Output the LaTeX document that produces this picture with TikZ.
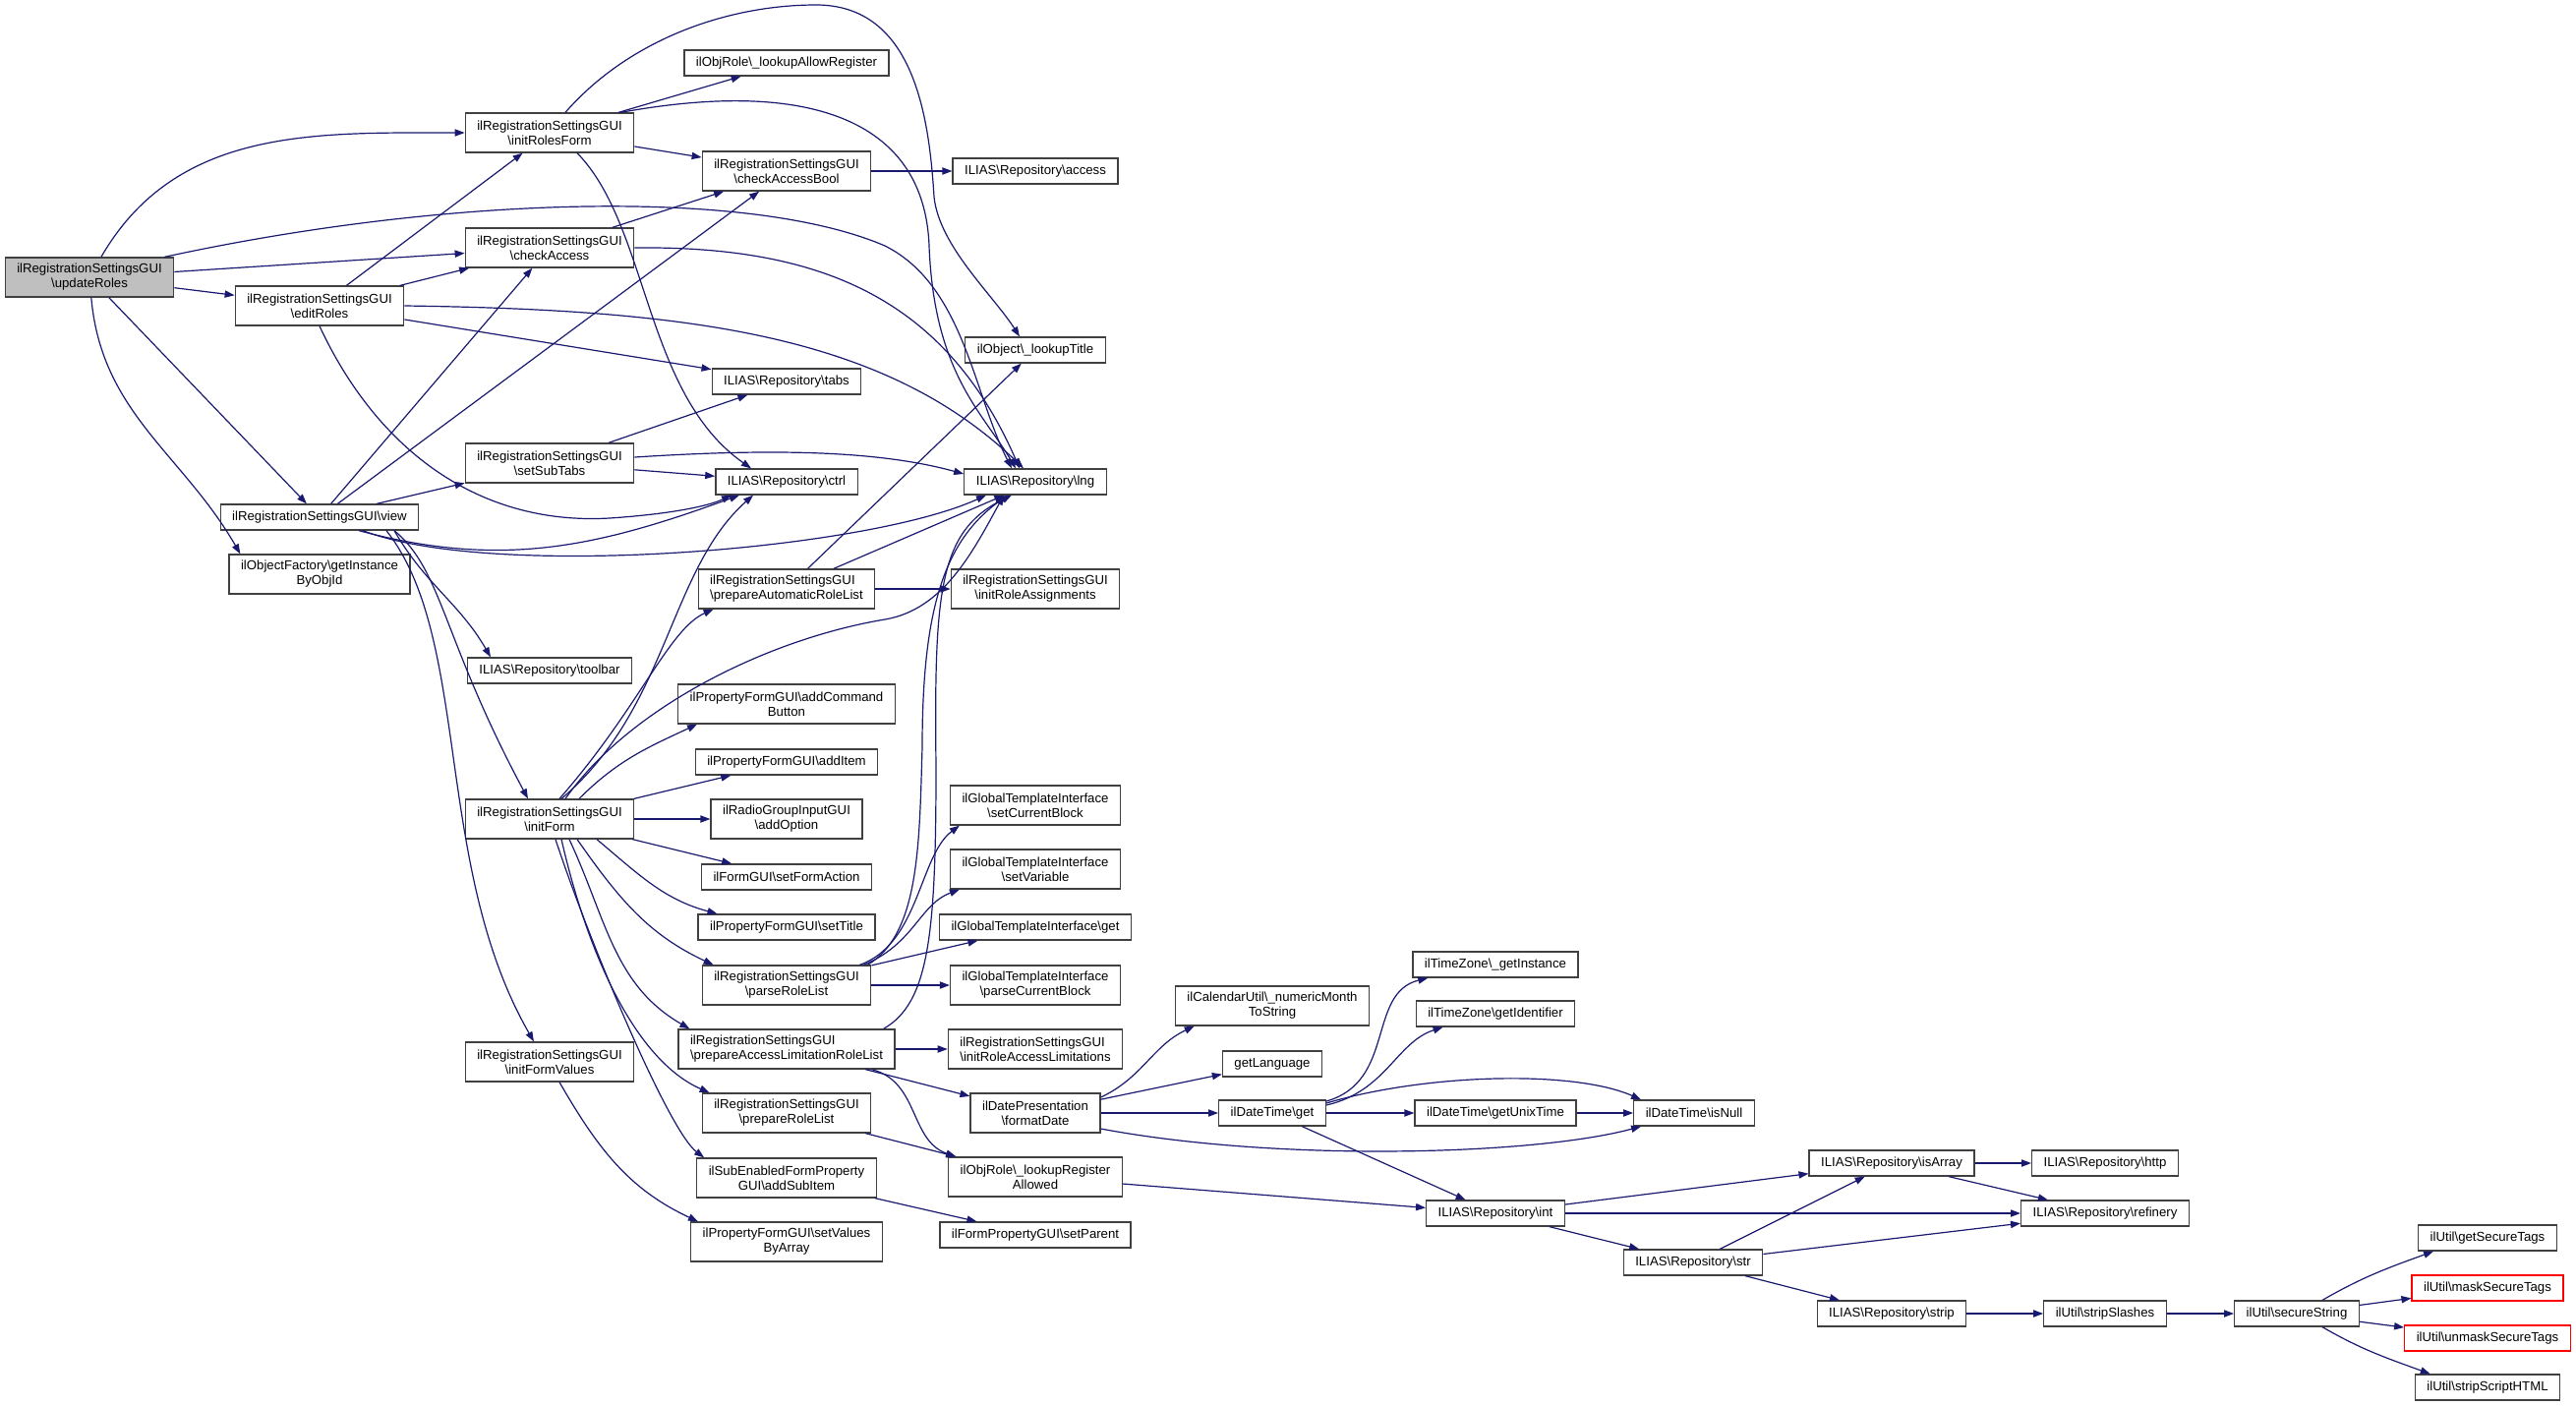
\documentclass[tikz,border=0pt]{standalone}
\usepackage{fontspec}
\setmainfont{Liberation Sans}
\usetikzlibrary{arrows.meta}

\definecolor{edgeblue}{RGB}{25,25,112}
\definecolor{boxgrey}{RGB}{64,64,64}
\definecolor{rootgrey}{RGB}{191,191,191}
\newcommand{\bsl}{\textbackslash}

\tikzstyle{func} = [draw=boxgrey, line width=0.65pt, fill=white, rectangle,
    inner xsep=6pt, inner ysep=0pt, minimum height=13pt, align=center,
    font=\fontsize{6.6pt}{7.5pt}\selectfont]
\tikzstyle{twoline} = [func, minimum height=20pt]
\tikzstyle{rootfunc} = [twoline, fill=rootgrey]
\tikzstyle{truncated} = [func, draw=red]
\tikzstyle{callarrow} = [draw=edgeblue, line width=0.6pt, -{Triangle[length=5pt,width=3.6pt]}]

\begin{document}
\begin{tikzpicture}[x=0.5pt, y=0.5pt]
    \useasboundingbox (0,0) rectangle (2620,-1430);
    \node [rootfunc] (updateRoles) at (91,-282) {ilRegistrationSettingsGUI\\\bsl updateRoles};
    \node [twoline] (editRoles) at (325,-311) {ilRegistrationSettingsGUI\\\bsl editRoles};
    \node [func] (view) at (325,-526) {ilRegistrationSettingsGUI\bsl view};
    \node [twoline] (getInstance) at (325,-584) {ilObjectFactory\bsl getInstance\\ByObjId};
    \node [twoline] (initRolesForm) at (559,-135) {ilRegistrationSettingsGUI\\\bsl initRolesForm};
    \node [twoline] (checkAccess) at (559,-252) {ilRegistrationSettingsGUI\\\bsl checkAccess};
    \node [twoline] (setSubTabs) at (559,-471) {ilRegistrationSettingsGUI\\\bsl setSubTabs};
    \node [func] (toolbar) at (559,-682) {ILIAS\bsl Repository\bsl toolbar};
    \node [twoline] (initForm) at (559,-833) {ilRegistrationSettingsGUI\\\bsl initForm};
    \node [twoline] (initFormValues) at (559,-1080) {ilRegistrationSettingsGUI\\\bsl initFormValues};
    \node [func] (lookupAllowRegister) at (800,-64) {ilObjRole\bsl\_lookupAllowRegister};
    \node [twoline] (checkAccessBool) at (800,-174) {ilRegistrationSettingsGUI\\\bsl checkAccessBool};
    \node [func] (tabs) at (800,-388) {ILIAS\bsl Repository\bsl tabs};
    \node [func] (ctrl) at (800,-490) {ILIAS\bsl Repository\bsl ctrl};
    \node [twoline, align=left] (prepareAutomaticRoleList) at (800,-599) {ilRegistrationSettingsGUI\\\bsl prepareAutomaticRoleList};
    \node [twoline] (addCommandButton) at (800,-716) {ilPropertyFormGUI\bsl addCommand\\Button};
    \node [func] (addItem) at (800,-775) {ilPropertyFormGUI\bsl addItem};
    \node [twoline] (addOption) at (800,-833) {ilRadioGroupInputGUI\\\bsl addOption};
    \node [func] (setFormAction) at (800,-892) {ilFormGUI\bsl setFormAction};
    \node [func] (setTitle) at (800,-943) {ilPropertyFormGUI\bsl setTitle};
    \node [twoline] (parseRoleList) at (800,-1002) {ilRegistrationSettingsGUI\\\bsl parseRoleList};
    \node [twoline, align=left] (prepareAccessLimitationRoleList) at (800,-1067) {ilRegistrationSettingsGUI\\\bsl prepareAccessLimitationRoleList};
    \node [twoline] (prepareRoleList) at (800,-1132) {ilRegistrationSettingsGUI\\\bsl prepareRoleList};
    \node [twoline] (addSubItem) at (800,-1198) {ilSubEnabledFormProperty\\GUI\bsl addSubItem};
    \node [twoline] (setValuesByArray) at (800,-1263) {ilPropertyFormGUI\bsl setValues\\ByArray};
    \node [func] (access) at (1053,-174) {ILIAS\bsl Repository\bsl access};
    \node [func] (lookupTitle) at (1053,-356) {ilObject\bsl\_lookupTitle};
    \node [func] (lng) at (1053,-490) {ILIAS\bsl Repository\bsl lng};
    \node [twoline] (initRoleAssignments) at (1053,-599) {ilRegistrationSettingsGUI\\\bsl initRoleAssignments};
    \node [twoline] (setCurrentBlock) at (1053,-819) {ilGlobalTemplateInterface\\\bsl setCurrentBlock};
    \node [twoline] (setVariable) at (1053,-884) {ilGlobalTemplateInterface\\\bsl setVariable};
    \node [func] (templateGet) at (1053,-943) {ilGlobalTemplateInterface\bsl get};
    \node [twoline] (parseCurrentBlock) at (1053,-1002) {ilGlobalTemplateInterface\\\bsl parseCurrentBlock};
    \node [twoline, align=left] (initRoleAccessLimitations) at (1053,-1067) {ilRegistrationSettingsGUI\\\bsl initRoleAccessLimitations};
    \node [twoline] (formatDate) at (1053,-1132) {ilDatePresentation\\\bsl formatDate};
    \node [twoline] (lookupRegisterAllowed) at (1053,-1197) {ilObjRole\bsl\_lookupRegister\\Allowed};
    \node [func] (setParent) at (1053,-1256) {ilFormPropertyGUI\bsl setParent};
    \node [twoline] (monthToString) at (1294,-1023) {ilCalendarUtil\bsl\_numericMonth\\ToString};
    \node [func] (getLanguage) at (1294,-1082) {getLanguage};
    \node [func] (dateGet) at (1294,-1132) {ilDateTime\bsl get};
    \node [func] (zoneInstance) at (1521,-981) {ilTimeZone\bsl\_getInstance};
    \node [func] (zoneIdentifier) at (1521,-1031) {ilTimeZone\bsl getIdentifier};
    \node [func] (unixTime) at (1521,-1132) {ilDateTime\bsl getUnixTime};
    \node [func] (repoInt) at (1521,-1234) {ILIAS\bsl Repository\bsl int};
    \node [func] (isNull) at (1723,-1132) {ilDateTime\bsl isNull};
    \node [func] (repoStr) at (1722,-1284) {ILIAS\bsl Repository\bsl str};
    \node [func] (isArray) at (1924,-1183) {ILIAS\bsl Repository\bsl isArray};
    \node [func] (repoStrip) at (1924,-1336) {ILIAS\bsl Repository\bsl strip};
    \node [func] (http) at (2141,-1183) {ILIAS\bsl Repository\bsl http};
    \node [func] (refinery) at (2141,-1234) {ILIAS\bsl Repository\bsl refinery};
    \node [func] (stripSlashes) at (2141,-1336) {ilUtil\bsl stripSlashes};
    \node [func] (secureString) at (2336,-1336) {ilUtil\bsl secureString};
    \node [func] (getSecureTags) at (2530,-1259) {ilUtil\bsl getSecureTags};
    \node [truncated] (maskSecureTags) at (2530,-1310) {ilUtil\bsl maskSecureTags};
    \node [truncated] (unmaskSecureTags) at (2530,-1361) {ilUtil\bsl unmaskSecureTags};
    \node [func] (stripScriptHTML) at (2530,-1411) {ilUtil\bsl stripScriptHTML};

    \draw [callarrow] (updateRoles) to[out=60,in=180] (initRolesForm);
    \draw [callarrow] (updateRoles) -- (checkAccess);
    \draw [callarrow] (updateRoles) -- (editRoles);
    \draw [callarrow] (updateRoles) -- (view);
    \draw [callarrow] (updateRoles) to[out=-85,in=120] ([xshift=6pt]getInstance.north west);
    \draw [callarrow] ([xshift=-5pt]updateRoles.north east) .. controls (450,-200) and (760,-190) .. (900,-250) .. controls (980,-290) and (990,-400) .. ([xshift=-12pt]lng.north);
    \draw [callarrow] ([xshift=8pt]initRolesForm.north) .. controls (640,-40) and (740,-5) .. (830,-5) .. controls (930,-5) and (945,-120) .. (950,-200) .. controls (955,-250) and (1010,-300) .. ([xshift=-8pt]lookupTitle.north);
    \draw [callarrow] (initRolesForm) -- (lookupAllowRegister);
    \draw [callarrow] ([xshift=-7pt]initRolesForm.north east) .. controls (820,-80) and (940,-120) .. (945,-250) .. controls (950,-380) and (1000,-420) .. ([xshift=-10pt]lng.north);
    \draw [callarrow] (initRolesForm) -- (checkAccessBool);
    \draw [callarrow] ([xshift=14pt]initRolesForm.south) .. controls (660,-230) and (655,-400) .. ([xshift=-18pt]ctrl.north);
    \draw [callarrow] (checkAccess) -- (checkAccessBool);
    \draw [callarrow] (checkAccess.east) .. controls (830,-250) and (960,-300) .. ([xshift=-8pt]lng.north);
    \draw [callarrow] (editRoles) -- (initRolesForm);
    \draw [callarrow] (editRoles) -- (checkAccess);
    \draw [callarrow] (editRoles.east) .. controls (700,-315) and (900,-340) .. ([xshift=-6pt]lng.north);
    \draw [callarrow] (editRoles) -- (tabs);
    \draw [callarrow] (editRoles.south) .. controls (380,-450) and (480,-535) .. (620,-527) .. controls (680,-523) and (720,-515) .. ([xshift=-28pt]ctrl.south);
    \draw [callarrow] (setSubTabs) -- (tabs);
    \draw [callarrow] ([yshift=3pt]setSubTabs.east) .. controls (800,-455) and (900,-460) .. ([yshift=4pt]lng.west);
    \draw [callarrow] (setSubTabs) -- (ctrl);
    \draw [callarrow] (view) -- (checkAccess);
    \draw [callarrow] (view) -- (checkAccessBool);
    \draw [callarrow] (view) -- (setSubTabs);
    \draw [callarrow] ([xshift=20pt]view.south) to[out=-15,in=200] ([xshift=-24pt]ctrl.south);
    \draw [callarrow] ([xshift=22pt]view.south) .. controls (500,-590) and (880,-560) .. ([xshift=-25pt]lng.south);
    \draw [callarrow] ([xshift=38pt]view.south) to[out=-60,in=120] ([xshift=-30pt]toolbar.north);
    \draw [callarrow] ([xshift=38pt]view.south) .. controls (450,-580) and (450,-650) .. ([xshift=-11pt]initForm.north);
    \draw [callarrow] ([xshift=34pt]view.south) .. controls (480,-650) and (440,-880) .. ([xshift=-8pt]initFormValues.north);
    \draw [callarrow] ([xshift=6pt]initForm.north) .. controls (680,-720) and (680,-580) .. ([xshift=-17pt]ctrl.south);
    \draw [callarrow] ([xshift=8pt]initForm.north) .. controls (640,-720) and (780,-650) .. (900,-630) .. controls (960,-620) and (990,-560) .. ([xshift=-16pt]lng.south);
    \draw [callarrow] ([xshift=5pt]initForm.north) .. controls (650,-720) and (680,-640) .. ([xshift=8pt]prepareAutomaticRoleList.south west);
    \draw [callarrow] ([xshift=15pt]initForm.north) to[out=45,in=205] ([xshift=10pt]addCommandButton.south west);
    \draw [callarrow] (initForm) -- (addItem);
    \draw [callarrow] (initForm) -- (addOption);
    \draw [callarrow] (initForm) -- (setFormAction);
    \draw [callarrow] ([xshift=24pt]initForm.south) to[out=-40,in=165] ([xshift=10pt]setTitle.north west);
    \draw [callarrow] ([xshift=14pt]initForm.south) to[out=-55,in=155] ([xshift=6pt]parseRoleList.north west);
    \draw [callarrow] ([xshift=10pt]initForm.south) to[out=-65,in=150] ([xshift=6pt]prepareAccessLimitationRoleList.north west);
    \draw [callarrow] ([xshift=6pt]initForm.south) .. controls (600,-980) and (650,-1080) .. ([xshift=4pt]prepareRoleList.north west);
    \draw [callarrow] ([xshift=3pt]initForm.south) .. controls (600,-960) and (680,-1150) .. ([xshift=4pt]addSubItem.north west);
    \draw [callarrow] ([xshift=5pt]initFormValues.south) to[out=-60,in=155] ([xshift=4pt]setValuesByArray.north west);
    \draw [callarrow] (checkAccessBool) -- (access);
    \draw [callarrow] (prepareAutomaticRoleList) -- (lookupTitle);
    \draw [callarrow] (prepareAutomaticRoleList) -- (lng);
    \draw [callarrow] (prepareAutomaticRoleList) -- (initRoleAssignments);
    \draw [callarrow] ([xshift=-6pt]parseRoleList.north east) .. controls (935,-960) and (935,-870) .. ([xshift=5pt]setCurrentBlock.south west);
    \draw [callarrow] ([xshift=-4pt]parseRoleList.north east) .. controls (930,-960) and (935,-920) .. ([xshift=5pt]setVariable.south west);
    \draw [callarrow] (parseRoleList) -- (templateGet);
    \draw [callarrow] (parseRoleList) -- (parseCurrentBlock);
    \draw [callarrow] ([xshift=-2pt]parseRoleList.north east) .. controls (935,-950) and (935,-860) .. (938,-760) .. controls (938,-620) and (960,-550) .. ([xshift=-14pt]lng.south);
    \draw [callarrow] ([xshift=-6pt]prepareAccessLimitationRoleList.north east) .. controls (945,-1020) and (952,-950) .. (952,-780) .. controls (950,-600) and (955,-540) .. ([xshift=-12pt]lng.south);
    \draw [callarrow] (prepareAccessLimitationRoleList) -- (initRoleAccessLimitations);
    \draw [callarrow] (prepareAccessLimitationRoleList) -- (formatDate);
    \draw [callarrow] ([xshift=-12pt]prepareAccessLimitationRoleList.south east) .. controls (935,-1100) and (925,-1160) .. ([xshift=4pt]lookupRegisterAllowed.north west);
    \draw [callarrow] (prepareRoleList) -- (lookupRegisterAllowed);
    \draw [callarrow] (addSubItem) -- (setParent);
    \draw [callarrow] ([yshift=8pt]formatDate.east) to[out=25,in=205] ([xshift=10pt]monthToString.south west);
    \draw [callarrow] (formatDate) -- (getLanguage);
    \draw [callarrow] (formatDate) -- (dateGet);
    \draw [callarrow] ([yshift=-8pt]formatDate.east) .. controls (1300,-1182) and (1560,-1175) .. ([xshift=4pt]isNull.south west);
    \draw [callarrow] ([yshift=6pt]dateGet.east) .. controls (1420,-1100) and (1390,-1010) .. ([xshift=8pt]zoneInstance.south west);
    \draw [callarrow] ([yshift=4pt]dateGet.east) .. controls (1410,-1110) and (1420,-1060) .. ([xshift=14pt]zoneIdentifier.south west);
    \draw [callarrow] ([yshift=5pt]dateGet.east) .. controls (1450,-1092) and (1600,-1088) .. ([xshift=4pt]isNull.north west);
    \draw [callarrow] (dateGet) -- (unixTime);
    \draw [callarrow] (dateGet) -- (repoInt);
    \draw [callarrow] (unixTime) -- (isNull);
    \draw [callarrow] (lookupRegisterAllowed) -- (repoInt);
    \draw [callarrow] (repoInt) -- (isArray);
    \draw [callarrow] (repoInt) -- (refinery);
    \draw [callarrow] (repoInt) -- (repoStr);
    \draw [callarrow] (isArray) -- (http);
    \draw [callarrow] (isArray) -- (refinery);
    \draw [callarrow] (repoStr) -- (isArray);
    \draw [callarrow] (repoStr) -- (refinery);
    \draw [callarrow] (repoStr) -- (repoStrip);
    \draw [callarrow] (repoStrip) -- (stripSlashes);
    \draw [callarrow] (stripSlashes) -- (secureString);
    \draw [callarrow] ([xshift=13pt]secureString.north) to[out=30,in=200] ([xshift=8pt]getSecureTags.south west);
    \draw [callarrow] (secureString) -- (maskSecureTags);
    \draw [callarrow] (secureString) -- (unmaskSecureTags);
    \draw [callarrow] ([xshift=13pt]secureString.south) to[out=-30,in=160] ([xshift=8pt]stripScriptHTML.north west);
\end{tikzpicture}
\end{document}
